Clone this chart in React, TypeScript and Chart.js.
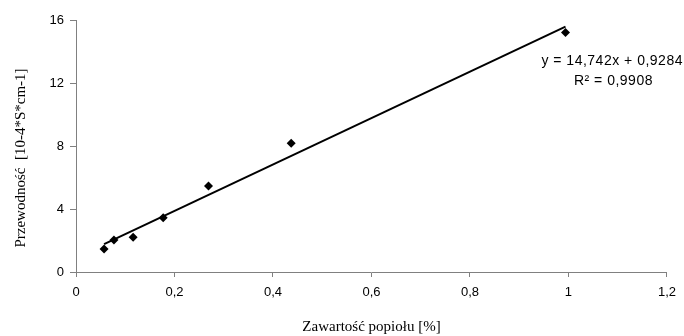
import React, { useEffect, useRef } from "react";
import { Chart, registerables } from "chart.js";

Chart.register(...registerables);

const ashContent: number[] = [0.057, 0.077, 0.116, 0.177, 0.269, 0.437, 0.994];
const conductivity: number[] = [1.46, 2.03, 2.2, 3.45, 5.46, 8.17, 15.2];
const slope = 14.742;
const intercept = 0.9284;
const equationLabel = "y = 14,742x + 0,9284";
const r2Label = "R² = 0,9908";
const xTitle = "Zawartość popiołu [%]";
const yTitle = "Przewodność  [10-4*S*cm-1]";

const fmt = (v: number | string) => String(Number(v).toFixed(1).replace(/\.0$/, "")).replace(".", ",");

export default function App() {
  const ref = useRef<HTMLCanvasElement | null>(null);
  useEffect(() => {
    if (!ref.current) return;
    const xMin = Math.min(...ashContent);
    const xMax = Math.max(...ashContent);
    const trend = [
      { x: xMin, y: slope * xMin + intercept },
      { x: xMax, y: slope * xMax + intercept },
    ];
    const labelPlugin = {
      id: "eqLabel",
      afterDraw(chart: any) {
        const { ctx, chartArea } = chart;
        ctx.save();
        ctx.fillStyle = "#000";
        ctx.font = "14px 'Liberation Sans', Arial, sans-serif";
        (ctx as any).letterSpacing = "0.5px";
        ctx.textAlign = "right";
        ctx.textBaseline = "middle";
        ctx.fillText(equationLabel, chartArea.right + 16, 61);
        ctx.fillText(r2Label, chartArea.right - 14, 81);
        (ctx as any).letterSpacing = "0px";
        ctx.translate(21, (chartArea.top + chartArea.bottom) / 2 + 12);
        ctx.rotate(-Math.PI / 2);
        ctx.textAlign = "center";
        ctx.font = "15px 'Liberation Serif', 'Times New Roman', serif";
        ctx.fillText(yTitle, 0, 0);
        ctx.restore();
      },
    };
    const chart = new Chart(ref.current, {
      type: "scatter",
      data: {
        datasets: [
          {
            label: "data",
            data: ashContent.map((x, i) => ({ x, y: conductivity[i] })),
            pointStyle: "rectRot",
            pointRadius: 4.5,
            backgroundColor: "#000",
            borderColor: "#000",
            borderWidth: 0,
          },
          {
            label: "trend",
            type: "line",
            data: trend,
            showLine: true,
            pointRadius: 0,
            borderColor: "#000",
            borderWidth: 2,
            fill: false,
          } as any,
        ],
      },
      options: {
        animation: false,
        responsive: false,
        maintainAspectRatio: false,
        layout: { padding: { top: 20, right: 17, left: 0, bottom: 0 } },
        plugins: { legend: { display: false }, tooltip: { enabled: false } },
        scales: {
          x: {
            type: "linear",
            min: 0,
            max: 1.2,
            ticks: {
              stepSize: 0.2,
              color: "#000",
              font: { family: "'Liberation Sans', Arial, sans-serif", size: 13 },
              padding: 8,
              callback: (v: any) => fmt(v),
              maxRotation: 0,
            },
            grid: { display: true, drawOnChartArea: false, drawTicks: true, tickLength: 5, color: "#808080" },
            border: { display: true, color: "#808080", width: 1 },
            title: {
              display: true,
              text: xTitle,
              color: "#000",
              font: { family: "'Liberation Serif', 'Times New Roman', serif", size: 15 },
              padding: { top: 10, bottom: 0 },
            },
            afterFit: (s: any) => {
              s.height = 64;
            },
          },
          y: {
            type: "linear",
            min: 0,
            max: 16,
            ticks: {
              stepSize: 4,
              color: "#000",
              font: { family: "'Liberation Sans', Arial, sans-serif", size: 13 },
              padding: 6,
            },
            grid: { display: true, drawOnChartArea: false, drawTicks: true, tickLength: 6, color: "#808080" },
            border: { display: true, color: "#808080", width: 1 },
            title: { display: false },
            afterFit: (s: any) => {
              s.width = 76;
            },
          },
        },
      },
      plugins: [labelPlugin],
    } as any);
    return () => chart.destroy();
  }, []);
  return (
    <div style={{ position: "fixed", left: 0, top: 0, width: 684, height: 336, background: "#fff" }}>
      <canvas ref={ref} width={684} height={336} style={{ width: 684, height: 336 }} />
    </div>
  );
}
